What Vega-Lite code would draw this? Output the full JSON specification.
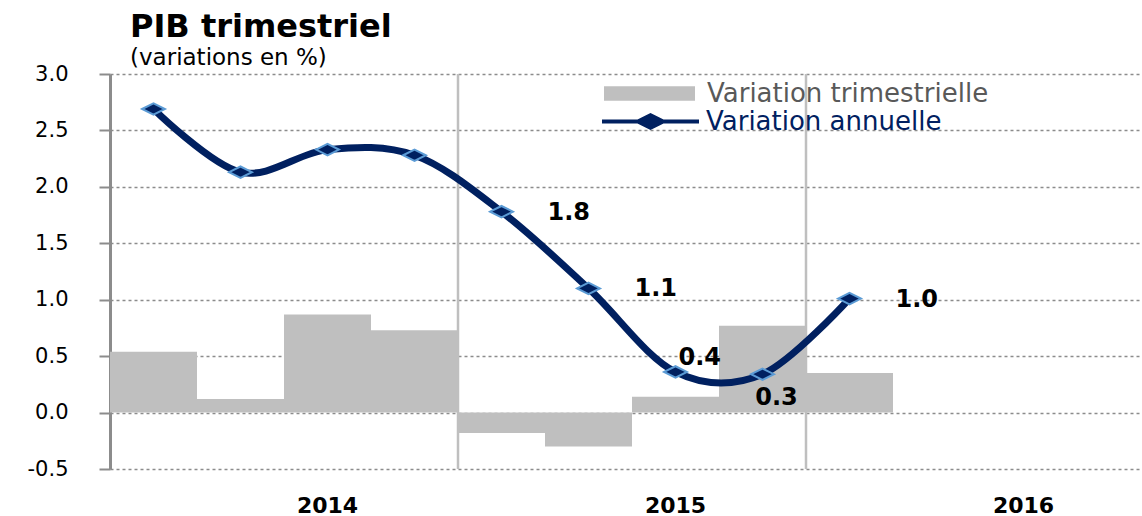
{
  "$schema": "https://vega.github.io/schema/vega-lite/v6.json",
  "width": 1044,
  "height": 395,
  "autosize": {"type": "none"},
  "padding": {"left": 110, "top": 74, "right": 0, "bottom": 47},
  "background": "white",
  "config": {"view": {"stroke": null}, "font": "DejaVu Sans"},
  "title": {
    "text": "PIB trimestriel",
    "subtitle": "(variations en %)",
    "anchor": "start",
    "frame": "group",
    "dx": 20,
    "offset": -23,
    "font": "DejaVu Sans",
    "fontSize": 32,
    "fontWeight": "bold",
    "color": "#000000",
    "subtitleFont": "DejaVu Sans",
    "subtitleFontSize": 23,
    "subtitleColor": "#000000",
    "subtitlePadding": 3
  },
  "data": {
    "values": [
      {"trimestre": "2014-T1", "trim": 0.54, "annu": 2.69},
      {"trimestre": "2014-T2", "trim": 0.12, "annu": 2.13},
      {"trimestre": "2014-T3", "trim": 0.87, "annu": 2.33},
      {"trimestre": "2014-T4", "trim": 0.73, "annu": 2.28},
      {"trimestre": "2015-T1", "trim": -0.18, "annu": 1.78},
      {"trimestre": "2015-T2", "trim": -0.30, "annu": 1.10},
      {"trimestre": "2015-T3", "trim": 0.14, "annu": 0.36},
      {"trimestre": "2015-T4", "trim": 0.77, "annu": 0.34},
      {"trimestre": "2016-T1", "trim": 0.35, "annu": 1.01}
    ]
  },
  "encoding": {
    "x": {
      "field": "trimestre",
      "type": "ordinal",
      "scale": {
        "type": "band",
        "domain": ["2014-T1","2014-T2","2014-T3","2014-T4","2015-T1","2015-T2","2015-T3","2015-T4","2016-T1","2016-T2","2016-T3","2016-T4"],
        "paddingInner": 0,
        "paddingOuter": 0
      },
      "axis": {
        "title": null,
        "domain": false,
        "ticks": false,
        "grid": false,
        "labelAngle": 0,
        "labelExpr": "indexof(datum.value, 'T3') > 0 ? slice(datum.value, 0, 4) : ''",
        "labelFont": "DejaVu Sans",
        "labelFontSize": 22,
        "labelFontWeight": "bold",
        "labelColor": "#000000",
        "labelPadding": 26
      }
    }
  },
  "layer": [
    {
      "mark": {"type": "bar"},
      "encoding": {
        "y": {
          "field": "trim",
          "type": "quantitative",
          "scale": {"domain": [-0.5, 3.0], "nice": false, "zero": false},
          "axis": {
            "title": null,
            "values": [-0.5, 0, 0.5, 1, 1.5, 2, 2.5, 3],
            "format": ".1f",
            "labelExpr": "replace(datum.label, '−', '-')",
            "domainColor": "#8C8C8C",
            "domainWidth": 3,
            "tickColor": "#8C8C8C",
            "tickWidth": 2,
            "tickSize": 11,
            "grid": true,
            "gridColor": "#8C8C8C",
            "gridDash": [3, 3],
            "gridWidth": 1.5,
            "labelFont": "DejaVu Sans",
            "labelFontSize": 21,
            "labelColor": "#000000",
            "labelPadding": 31
          }
        },
        "fill": {
          "datum": "Variation trimestrielle",
          "scale": {"range": ["#BFBFBF"]},
          "legend": {
            "orient": "none",
            "legendX": 494,
            "legendY": -26,
            "title": null,
            "padding": 0,
            "symbolType": "M-1,-0.16L1,-0.16L1,0.16L-1,0.16Z",
            "symbolSize": 8281,
            "symbolStrokeWidth": 0,
            "symbolOpacity": 1,
            "labelFont": "DejaVu Sans",
            "labelFontSize": 26,
            "labelColor": "#595959",
            "labelOffset": 12,
            "labelLimit": 600
          }
        }
      }
    },
    {
      "transform": [{"filter": "datum.trimestre == '2015-T1' || datum.trimestre == '2016-T1'"}],
      "mark": {"type": "rule", "color": "#BFBFBF", "strokeWidth": 2.5},
      "encoding": {
        "x": {"field": "trimestre", "type": "ordinal", "bandPosition": 0}
      }
    },
    {
      "mark": {"type": "rule", "color": "#8C8C8C", "strokeWidth": 2.5},
      "encoding": {"y": {"datum": 0}}
    },
    {
      "mark": {"type": "line", "interpolate": "cardinal", "strokeWidth": 7},
      "encoding": {
        "y": {"field": "annu", "type": "quantitative"},
        "stroke": {
          "datum": "Variation annuelle",
          "scale": {"range": ["#002060"]},
          "legend": {
            "orient": "none",
            "legendX": 490,
            "legendY": -3,
            "title": null,
            "padding": 0,
            "symbolType": "M-1,0L1,0M-0.26,0L0,-0.13L0.26,0L0,0.13Z",
            "symbolSize": 9409,
            "symbolStrokeWidth": 4,
            "symbolFillColor": "#002060",
            "symbolOpacity": 1,
            "labelFont": "DejaVu Sans",
            "labelFontSize": 26,
            "labelColor": "#002060",
            "labelOffset": 5,
            "labelLimit": 600
          }
        }
      }
    },
    {
      "mark": {
        "type": "point",
        "shape": "M-1,0L0,-0.5L1,0L0,0.5Z",
        "size": 520,
        "filled": true,
        "fill": "#002060",
        "stroke": "#5B9BD5",
        "strokeWidth": 2,
        "opacity": 1
      },
      "encoding": {"y": {"field": "annu", "type": "quantitative"}}
    },
    {
      "transform": [{"filter": "datum.trimestre == '2015-T1' || datum.trimestre == '2015-T2' || datum.trimestre == '2016-T1'"}],
      "mark": {"type": "text", "align": "left", "baseline": "middle", "dx": 46, "dy": 1, "font": "DejaVu Sans", "fontSize": 24, "fontWeight": "bold", "color": "#000000"},
      "encoding": {
        "y": {"field": "annu", "type": "quantitative"},
        "text": {"field": "annu", "type": "quantitative", "format": ".1f"}
      }
    },
    {
      "transform": [{"filter": "datum.trimestre == '2015-T3'"}],
      "mark": {"type": "text", "align": "left", "baseline": "middle", "dx": 3, "dy": -14, "font": "DejaVu Sans", "fontSize": 24, "fontWeight": "bold", "color": "#000000"},
      "encoding": {
        "y": {"field": "annu", "type": "quantitative"},
        "text": {"field": "annu", "type": "quantitative", "format": ".1f"}
      }
    },
    {
      "transform": [{"filter": "datum.trimestre == '2015-T4'"}],
      "mark": {"type": "text", "align": "center", "baseline": "middle", "dx": 14, "dy": 24, "font": "DejaVu Sans", "fontSize": 24, "fontWeight": "bold", "color": "#000000"},
      "encoding": {
        "y": {"field": "annu", "type": "quantitative"},
        "text": {"field": "annu", "type": "quantitative", "format": ".1f"}
      }
    }
  ]
}
